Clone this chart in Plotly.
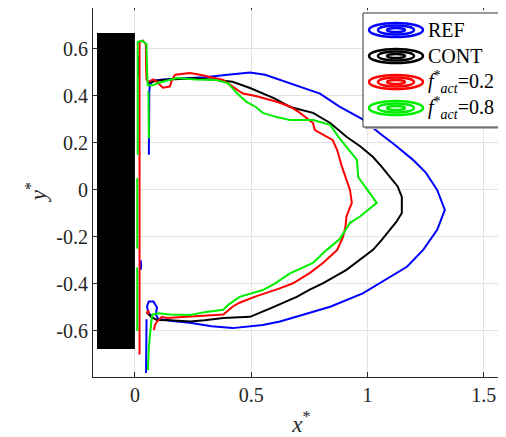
import plotly.graph_objects as go

# contour lines (x*, y*)
ref_x = [0.060, 0.060, 0.062, 0.065, 0.080, 0.120, 0.200, 0.300, 0.400, 0.495, 0.560, 0.624, 0.700, 0.796,
         0.880, 0.980, 1.054, 1.120, 1.196, 1.250, 1.300, 1.333, 1.300, 1.240, 1.170, 1.054, 0.980, 0.840,
         0.696, 0.624, 0.550, 0.420, 0.330, 0.237, 0.160, 0.100, 0.090, 0.095, 0.080, 0.060, 0.052, 0.057, 0.075]
ref_y = [0.150, 0.300, 0.420, 0.450, 0.465, 0.470, 0.475, 0.480, 0.490, 0.500, 0.490, 0.468, 0.445, 0.410,
         0.355, 0.300, 0.240, 0.190, 0.128, 0.075, 0.000, -0.085, -0.170, -0.255, -0.327, -0.397, -0.440, -0.497,
         -0.540, -0.560, -0.575, -0.588, -0.580, -0.565, -0.558, -0.548, -0.530, -0.500, -0.475, -0.475, -0.495, -0.520, -0.540]
ref_x2 = [0.050, 0.050, 0.048, None, 0.025, 0.027, 0.025]
ref_y2 = [-0.550, -0.680, -0.780, None, -0.300, -0.320, -0.340]

cont_x = [0.017, 0.017, None, 0.056, 0.090, 0.150, 0.250, 0.330, 0.420, 0.495, 0.550, 0.600, 0.667, 0.766,
          0.840, 0.910, 0.970, 1.024, 1.060, 1.097, 1.130, 1.148, 1.148, 1.125, 1.097, 1.060, 1.024, 0.970,
          0.910, 0.810, 0.750, 0.696, 0.667, 0.580, 0.495, 0.380, 0.300, 0.237, 0.150, 0.095, 0.070, 0.050]
cont_y = [0.570, 0.480, None, 0.455, 0.465, 0.470, 0.475, 0.470, 0.460, 0.434, 0.410, 0.390, 0.353, 0.328,
          0.285, 0.226, 0.185, 0.140, 0.100, 0.055, 0.015, -0.030, -0.098, -0.135, -0.170, -0.215, -0.255, -0.295,
          -0.340, -0.397, -0.425, -0.455, -0.468, -0.505, -0.540, -0.545, -0.555, -0.560, -0.555, -0.553, -0.540, -0.520]

f02_x = [0.020, 0.020, 0.020, 0.035, 0.047, 0.048, 0.050, 0.056, 0.080, 0.100, 0.120, 0.150, 0.160, 0.173,
         0.237, 0.280, 0.320, 0.380, 0.440, 0.465, 0.520, 0.610, 0.667, 0.710, 0.766, 0.774, 0.850, 0.870,
         0.890, 0.910, 0.925, 0.933, 0.910, 0.905, 0.895, 0.870, 0.810, 0.753, 0.680, 0.620, 0.520, 0.450,
         0.420, 0.380, 0.300, 0.237, 0.137, 0.116, 0.095, 0.086, 0.082]
f02_y = [-0.700, 0.000, 0.630, 0.635, 0.620, 0.520, 0.470, 0.460, 0.470, 0.455, 0.435, 0.440, 0.470, 0.490,
         0.498, 0.490, 0.480, 0.468, 0.426, 0.410, 0.400, 0.375, 0.355, 0.328, 0.285, 0.255, 0.213, 0.170,
         0.100, 0.045, 0.000, -0.055, -0.113, -0.160, -0.200, -0.255, -0.310, -0.353, -0.397, -0.420, -0.453, -0.480,
         -0.497, -0.530, -0.535, -0.537, -0.545, -0.540, -0.560, -0.575, -0.596]
f02_x2 = [0.054, 0.058, 0.058, 0.054, 0.054]
f02_y2 = [-0.515, -0.515, -0.525, -0.525, -0.515]

f08_x = [0.010, 0.010, None, 0.010, 0.010, None, 0.012, 0.012, 0.030, 0.050, 0.052, 0.055, 0.075, 0.100,
         0.180, 0.260, 0.350, 0.400, 0.440, 0.480, 0.520, 0.550, 0.610, 0.667, 0.766, 0.840, 0.875, 0.910,
         0.955, 0.958, 0.960, 1.000, 1.040, 0.968, 0.925, 0.880, 0.825, 0.766, 0.696, 0.667, 0.600, 0.550,
         0.450, 0.400, 0.380, 0.300, 0.237, 0.150, 0.100, 0.075, 0.070, 0.065, 0.060, 0.056]
f08_y = [-0.600, -0.330, None, -0.250, 0.050, None, 0.150, 0.630, 0.635, 0.620, 0.520, 0.445, 0.445, 0.455,
         0.476, 0.470, 0.468, 0.455, 0.410, 0.375, 0.353, 0.328, 0.310, 0.298, 0.298, 0.277, 0.226, 0.183,
         0.128, 0.090, 0.055, 0.000, -0.055, -0.113, -0.140, -0.210, -0.255, -0.310, -0.340, -0.355, -0.400, -0.426,
         -0.455, -0.490, -0.510, -0.520, -0.532, -0.530, -0.525, -0.530, -0.566, -0.620, -0.670, -0.766]
f08_x2 = [0.058, 0.060, 0.062, 0.060]
f08_y2 = [0.420, 0.330, 0.260, 0.220]

legend_names = ['REF', 'CONT', '<i>f</i><sup>*</sup><sub><i>act</i></sub>=0.2', '<i>f</i><sup>*</sup><sub><i>act</i></sub>=0.8']
colors = ['#0000ff', '#000000', '#ff0000', '#00ee00']

SERIF = 'Liberation Serif'
# the page has an 8px body margin, so the figure is 8px smaller than the window
W, H = 498, 429
L, R, T, B = 89, 498, 1, 365


def px(xp, yp):
    # window pixel -> paper coordinates
    return (xp - 8 - L) / (R - L), (B - (yp - 8)) / (B - T)


fig = go.Figure()
series = [(ref_x, ref_y, ref_x2, ref_y2), (cont_x, cont_y, None, None),
          (f02_x, f02_y, f02_x2, f02_y2), (f08_x, f08_y, f08_x2, f08_y2)]
for (x, y, x2, y2), c in zip(series, colors):
    fig.add_trace(go.Scatter(x=x, y=y, mode='lines', line=dict(color=c, width=2), showlegend=False))
    if x2 is not None:
        fig.add_trace(go.Scatter(x=x2, y=y2, mode='lines', line=dict(color=c, width=2), showlegend=False))

# bluff body
fig.add_shape(type='rect', x0=-0.2, x1=0.0, y0=-0.677, y1=0.668, fillcolor='black',
              line=dict(width=0), layer='between')

# legend box (drawn by hand to get the contour icons)
x0, y0 = px(363, 127)
x1, y1 = px(510, 13)
sx0, sy0 = px(365, 129)
fig.add_shape(type='rect', xref='paper', yref='paper', x0=sx0, y0=sy0, x1=1.01, y1=y1 - 0.005,
              fillcolor='#b0b0b0', line=dict(width=0))
fig.add_shape(type='rect', xref='paper', yref='paper', x0=x0, y0=y0, x1=x1, y1=y1,
              fillcolor='white', line=dict(color='#333333', width=1))
centers = [30, 56, 82, 108]
for name, c, cy in zip(legend_names, colors, centers):
    for hw, hh in [(27, 7), (18, 4.5), (9, 2)]:
        a, b = px(396 - hw, cy + hh)
        d, e = px(396 + hw, cy - hh)
        fig.add_shape(type='circle', xref='paper', yref='paper', x0=a, y0=b, x1=d, y1=e,
                      line=dict(color=c, width=2.5))
    tx, ty = px(426, cy)
    fig.add_annotation(x=tx, y=ty, xref='paper', yref='paper', text=name, showarrow=False,
                       xanchor='left', yanchor='middle', xshift=0,
                       font=dict(family=SERIF, size=20, color='black'))

axis_style = dict(showline=True, linecolor='#262626', linewidth=1, mirror='allticks',
                  ticks='inside', ticklen=5, tickcolor='#262626', showgrid=True,
                  gridcolor='#e3e3e3', gridwidth=1, zeroline=False,
                  tickfont=dict(family=SERIF, size=20, color='#262626'))
fig.update_xaxes(range=[-0.163, 1.596], tickvals=[0, 0.5, 1, 1.5], ticktext=['0', '0.5', '1', '1.5'],
                 title=dict(text='<i>x</i><sup>*</sup>', font=dict(family=SERIF, size=23, color='#262626'),
                            standoff=16),
                 **axis_style)
fig.update_yaxes(range=[-0.779, 0.770], tickvals=[-0.6, -0.4, -0.2, 0, 0.2, 0.4, 0.6],
                 ticktext=['-0.6', '-0.4', '-0.2', '0', '0.2', '0.4', '0.6'],
                 title=dict(text='<i>y</i><sup>*</sup>', font=dict(family=SERIF, size=23, color='#262626'),
                            standoff=7),
                 **axis_style)
fig.update_layout(width=W, height=H, margin=dict(l=L, r=W - R, t=T, b=H - B, pad=4),
                  plot_bgcolor='white', paper_bgcolor='white',
                  font=dict(family=SERIF, color='#262626'), showlegend=False)
fig.write_html('out.html')
